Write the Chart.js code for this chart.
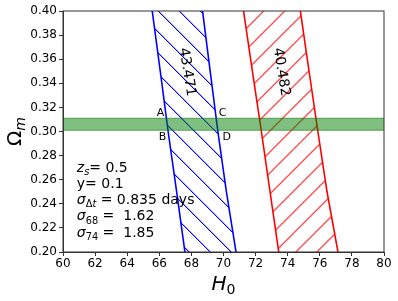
<!DOCTYPE html>
<html lang="en">
<head>
<meta charset="UTF-8" />
<title>H0 - Omega_m</title>
<script src="https://cdn.jsdelivr.net/npm/chart.js"></script>
<style>
  html, body { margin: 0; padding: 0; background: #fff; }
  #wrap { width: 398px; height: 301px; }
</style>
</head>
<body>
<div id="wrap"><canvas id="chart" width="398" height="301"></canvas></div>
<script>
// H0 on the edges of the two bands, read at these Omega_m values
const omegaEdge = [0.19, 0.25, 0.30, 0.35, 0.41];
const blueLeft  = [67.70, 67.08, 66.55, 66.06, 65.46];
const blueRight = [70.90, 70.18, 69.65, 69.17, 68.60];
const redLeft   = [73.55, 72.90, 72.36, 71.80, 71.14];
const redRight  = [77.27, 76.45, 75.88, 75.33, 74.68];

// horizontal prior band on Omega_m
const priorH0 = [58, 82];
const priorOmega = [0.301, 0.311];

const xTicks = [60, 62, 64, 66, 68, 70, 72, 74, 76, 78, 80];
const yTicks = [0.20, 0.22, 0.24, 0.26, 0.28, 0.30, 0.32, 0.34, 0.36, 0.38, 0.40];

// labels in data coordinates
const bandLabels = ['43.471', '40.482'];
const bandLabelH0 = [67.73, 73.6];
const bandLabelOmega = [0.3494, 0.3494];

const cornerLabels = ['A', 'B', 'C', 'D'];
const cornerH0 = [66.08, 66.2, 69.95, 70.2];
const cornerOmega = [0.3150, 0.2955, 0.3150, 0.2955];

const infoH0 = 60.86;
const infoOmega = 0.2665;
const infoLines = [
  [['z', 'i'], ['s', 'si'], ['= 0.5', 'n']],
  [['y= 0.1', 'n']],
  [['\u03c3', 'i'], ['\u0394', 's'], ['t', 'si'], [' = 0.835 days', 'n']],
  [['\u03c3', 'i'], ['68', 's'], [' =  1.62', 'n']],
  [['\u03c3', 'i'], ['74', 's'], [' =  1.85', 'n']]
];

const FONT = '"DejaVu Sans", sans-serif';

function band(left, right) {
  const pts = [];
  for (let i = 0; i < omegaEdge.length; i++) pts.push({ x: left[i], y: omegaEdge[i] });
  for (let i = omegaEdge.length - 1; i >= 0; i--) pts.push({ x: right[i], y: omegaEdge[i] });
  return pts;
}

function priorBand() {
  return [
    { x: priorH0[0], y: priorOmega[0] },
    { x: priorH0[1], y: priorOmega[0] },
    { x: priorH0[1], y: priorOmega[1] },
    { x: priorH0[0], y: priorOmega[1] }
  ];
}

// matplotlib style hatch as a canvas pattern, drawn pixel by pixel
function hatch(r, gr, b, back, shift) {
  const n = 21;
  const c = document.createElement('canvas');
  c.width = n; c.height = n;
  const g = c.getContext('2d');
  for (let i = 0; i < n; i++) {
    const y = back ? i : n - 1 - i;
    g.fillStyle = `rgb(${r},${gr},${b})`;
    g.fillRect(i, y, 1, 1);
    g.fillStyle = `rgba(${r},${gr},${b},0.35)`;
    g.fillRect((i + 1) % n, y, 1, 1);
  }
  const p = g.createPattern(c, 'repeat');
  if (shift) p.setTransform(new DOMMatrix().translate(shift, 0));
  return p;
}

function rich(ctx, x, y, parts, size) {
  for (const [t, st] of parts) {
    const sub = st.includes('s');
    const it = st.includes('i');
    const fs = sub ? size * 0.7 : size;
    ctx.font = (it ? 'italic ' : '') + fs + 'px ' + FONT;
    ctx.fillText(t, x, y + (sub ? size * 0.22 : 0));
    x += ctx.measureText(t).width;
  }
  return x;
}

function richWidth(ctx, parts, size) {
  let w = 0;
  for (const [t, st] of parts) {
    const fs = st.includes('s') ? size * 0.7 : size;
    ctx.font = (st.includes('i') ? 'italic ' : '') + fs + 'px ' + FONT;
    w += ctx.measureText(t).width;
  }
  return w;
}

const extras = {
  id: 'extras',
  afterDraw(chart) {
    const ctx = chart.ctx;
    const a = chart.chartArea;
    const xs = chart.scales.x, ys = chart.scales.y;
    ctx.save();

    // frame
    ctx.strokeStyle = '#333';
    ctx.lineWidth = 1;
    ctx.strokeRect(a.left, a.top, a.right - a.left, a.bottom - a.top);

    ctx.fillStyle = '#000';
    // rotated band labels
    ctx.font = '14px ' + FONT;
    ctx.textAlign = 'center';
    ctx.textBaseline = 'middle';
    bandLabels.forEach((t, i) => {
      ctx.save();
      ctx.translate(xs.getPixelForValue(bandLabelH0[i]), ys.getPixelForValue(bandLabelOmega[i]));
      ctx.rotate(80.7 * Math.PI / 180);
      ctx.fillText(t, 0, 0);
      ctx.restore();
    });

    // A B C D
    ctx.font = '11px ' + FONT;
    cornerLabels.forEach((t, i) => {
      ctx.fillText(t, xs.getPixelForValue(cornerH0[i]), ys.getPixelForValue(cornerOmega[i]));
    });

    // info block
    ctx.textAlign = 'left';
    ctx.textBaseline = 'alphabetic';
    const x0 = xs.getPixelForValue(infoH0);
    const y0 = ys.getPixelForValue(infoOmega);
    infoLines.forEach((parts, i) => rich(ctx, x0, y0 + i * 16.2, parts, 14));

    // axis titles
    const xt = [['H', 'i'], ['0', 's']];
    const cx = (a.left + a.right) / 2;
    rich(ctx, cx - richWidth(ctx, xt, 20) / 2, 290, xt, 20);

    const yt = [['\u03a9', 'n'], ['m', 'si']];
    ctx.save();
    ctx.translate(20.5, (a.top + a.bottom) / 2);
    ctx.rotate(-Math.PI / 2);
    rich(ctx, -richWidth(ctx, yt, 20) / 2, 0, yt, 20);
    ctx.restore();

    ctx.restore();
  }
};

const tickFont = { family: FONT, size: 12 };

new Chart(document.getElementById('chart'), {
  type: 'line',
  data: {
    datasets: [
      {
        data: priorBand(),
        fill: 'shape',
        backgroundColor: 'rgba(0,128,0,0.5)',
        borderColor: 'rgba(0,110,0,0.55)',
        borderWidth: 1,
        pointRadius: 0,
        tension: 0,
        clip: 0
      },
      {
        data: band(redLeft, redRight),
        fill: 'shape',
        backgroundColor: hatch(255, 0, 0, false, 1.5),
        borderColor: '#ff0000',
        borderWidth: 1.6,
        pointRadius: 0,
        tension: 0,
        clip: 0
      },
      {
        data: band(blueLeft, blueRight),
        fill: 'shape',
        backgroundColor: hatch(0, 0, 255, true, 0),
        borderColor: '#0000ff',
        borderWidth: 1.6,
        pointRadius: 0,
        tension: 0,
        clip: 0
      }
    ]
  },
  options: {
    responsive: false,
    animation: false,
    layout: { padding: { left: 0, top: 11, right: 14, bottom: 0 } },
    plugins: { legend: { display: false }, tooltip: { enabled: false } },
    scales: {
      x: {
        type: 'linear',
        min: 60,
        max: 80,
        afterBuildTicks: s => { s.ticks = xTicks.map(v => ({ value: v })); },
        afterFit: s => { s.height = 49; },
        ticks: { font: tickFont, color: '#000', padding: 1, maxRotation: 0, autoSkip: false },
        grid: { drawOnChartArea: false, tickLength: 4, tickColor: '#333' },
        border: { color: '#333' }
      },
      y: {
        type: 'linear',
        min: 0.2,
        max: 0.4,
        afterBuildTicks: s => { s.ticks = yTicks.map(v => ({ value: v })); },
        afterFit: s => { s.width = 63; },
        ticks: {
          font: tickFont, color: '#000', padding: 2, autoSkip: false,
          callback: v => Number(v).toFixed(2)
        },
        grid: { drawOnChartArea: false, tickLength: 4, tickColor: '#333' },
        border: { color: '#333' }
      }
    }
  },
  plugins: [extras]
});
</script>
</body>
</html>
